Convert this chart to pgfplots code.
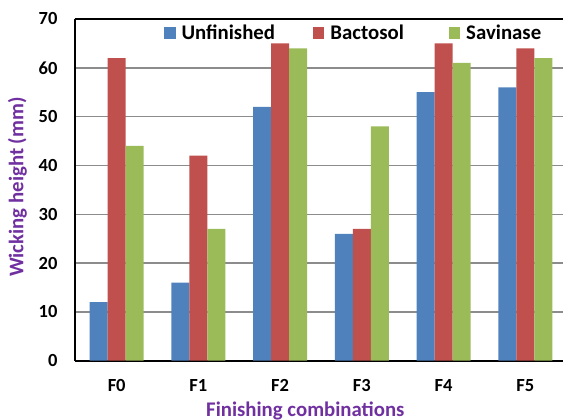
\documentclass[border=0pt]{standalone}
\usepackage{pgfplots}
\pgfplotsset{compat=1.18}
\usepackage{fontspec}
\setmainfont{Carlito}
\usetikzlibrary{calc}
\definecolor{cblue}{HTML}{4F81BD}
\definecolor{cred}{HTML}{C0504D}
\definecolor{cgreen}{HTML}{9BBB59}
\definecolor{cpurple}{HTML}{7030A0}
\newcommand{\chartfont}{\fontsize{18.5}{22}\selectfont\bfseries}
\newcommand{\bigfont}{\fontsize{20.8}{24}\selectfont\bfseries}
\begin{document}
\begin{tikzpicture}
\begin{axis}[
  scale only axis, width=488pt, height=341.7pt,
  xmin=-0.51, xmax=5.46, ymin=0, ymax=70,
  ytick={0,10,...,70},
  xtick={0,...,5}, xticklabels={F0,F1,F2,F3,F4,F5},
  major tick length=0pt,
  ymajorgrids, grid style={line width=1.4pt, color=black!45},
  axis x line*=bottom, axis y line*=left,
  axis line style={line width=2pt, black, -},
  /pgf/number format/assume math mode=true,
  tick label style={font=\chartfont},
  yticklabel style={xshift=-14pt},
  xticklabel style={yshift=-15pt},
  xlabel={Finishing combinations},
  ylabel={Wicking height (mm)},
  label style={font=\bigfont, color=cpurple},
  xlabel style={at={(axis description cs:0.472,0)}, anchor=center, yshift=-50pt},
  ylabel style={at={(axis description cs:0,0.508)}, anchor=center, yshift=57.5pt},
  legend columns=3,
  legend style={draw=none, fill=none, inner sep=0pt, outer sep=0pt,
    at={(axis description cs:0.182,0.959)}, anchor=west,
    font=\bigfont, nodes={inner sep=0pt},
    /tikz/every odd column/.append style={column sep=6pt},
    /tikz/every even column/.append style={column sep=37.7pt}},
  legend image code/.code={\fill[#1] (0pt,-5.85pt) rectangle (11.7pt,5.85pt);},
]
\addplot[ybar, bar width=0.22, bar shift=-0.22, fill=cblue, draw=none] coordinates {(0,12) (1,16) (2,52) (3,26) (4,55) (5,56)};
\addlegendentry{Unfinished}
\addplot[ybar, bar width=0.22, bar shift=0, fill=cred, draw=none] coordinates {(0,62) (1,42) (2,65) (3,27) (4,65) (5,64)};
\addlegendentry{Bactosol\rule{7pt}{0pt}}
\addplot[ybar, bar width=0.22, bar shift=0.22, fill=cgreen, draw=none] coordinates {(0,44) (1,27) (2,64) (3,48) (4,61) (5,62)};
\addlegendentry{Savinase}
\draw[line width=2pt, black] (rel axis cs:0,1) -- (rel axis cs:1,1);
\end{axis}
\pgfresetboundingbox
\path ($(current axis.south west)+(-75pt,-59.3pt)$) rectangle ($(current axis.north east)+(0pt,19pt)$);
\end{tikzpicture}
\end{document}
